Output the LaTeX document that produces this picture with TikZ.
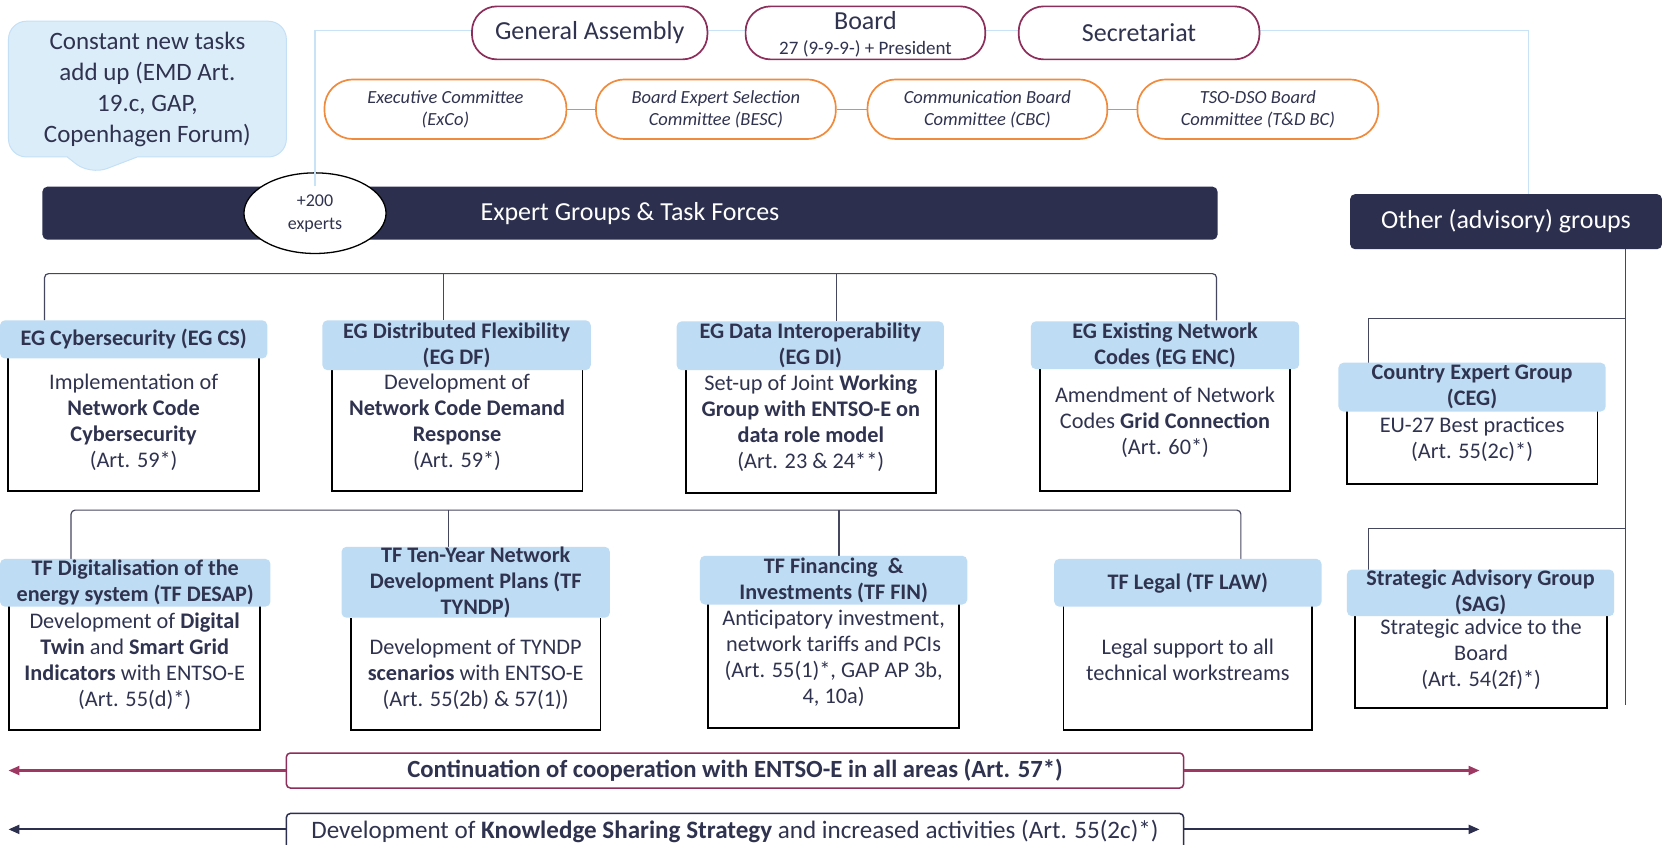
\documentclass[tikz,border=0pt]{standalone}
\usepackage{fontspec}
\setmainfont{Carlito}
\usetikzlibrary{shapes.callouts,shapes.geometric,arrows.meta}
\definecolor{navy}{HTML}{2C2F4E}
\definecolor{navytext}{HTML}{30334F}
\definecolor{maroon}{HTML}{8C2D5A}
\definecolor{orangeb}{HTML}{F08A3C}
\definecolor{pinkline}{HTML}{C98CA2}
\definecolor{hdrblue}{HTML}{BEDDF4}
\definecolor{lblue}{HTML}{C9E3F6}
\definecolor{callfill}{HTML}{DCEDFA}
\definecolor{callborder}{HTML}{C4E0F7}
\definecolor{brkcol}{HTML}{45475F}
\definecolor{arrowm}{HTML}{9E3862}
\newcommand{\pxu}{1.0606pt}
\tikzset{
  topoval/.style={draw=maroon, line width=1.7pt, fill=white, rounded corners=25pt, inner sep=0pt, text=navytext, font=\fontsize{26}{28}\selectfont},
  comoval/.style={draw=orangeb, line width=1.7pt, fill=white, rounded corners=28pt, inner sep=0pt, text=navytext, align=center, font=\itshape\fontsize{18.5}{22}\selectfont},
  link/.style={draw=pinkline, line width=1.3pt},
  bar/.style={fill=navy, rounded corners=5pt, inner sep=0pt, text=white, font=\fontsize{26}{28}\selectfont},
  brk/.style={draw=brkcol, line width=1.2pt},
  hdr/.style={fill=hdrblue, rounded corners=5pt, inner sep=0pt, align=center, text=navytext, font=\bfseries\fontsize{22.2}{26}\selectfont},
  body/.style={inner sep=0pt, align=center, text=navytext, font=\fontsize{22.3}{26}\selectfont},
  boxline/.style={draw=black, line width=1.8pt},
  band/.style={fill=white, rounded corners=4pt, inner sep=0pt, line width=1.5pt, text=navytext},
  flow/.style={line width=2.2pt, -{Triangle[length=11pt,width=9pt]}},
  lbline/.style={draw=lblue, line width=1.2pt}
}
\begin{document}
\begin{tikzpicture}[x=1.0606pt, y=-1.0606pt]
\useasboundingbox (0,0) rectangle (1568,796);
\fill[white] (0,0) rectangle (1568,796);

% nodes of the top
\node[bar, minimum width=1108*\pxu, minimum height=50*\pxu] (eg) at (594,201) {Expert Groups \& Task Forces};
\node[bar, minimum width=294*\pxu, minimum height=52*\pxu] (other) at (1420,209) {Other (advisory) groups};
\node[draw=black, fill=white, ellipse, line width=1.3pt, minimum width=134*\pxu, minimum height=76*\pxu, inner sep=0pt, align=center, text=navytext, font=\fontsize{18}{23}\selectfont] (exp) at (297,201) {+200\\experts};

% light blue frame line
\coordinate (lb1) at (296,29);
\coordinate (lb2) at (1441,29);
\draw[lbline] (exp.north |- eg.north) -- (exp.north |- lb1) -- (lb2) -- (lb2 |- other.north);

\node[topoval, minimum width=222*\pxu, minimum height=50*\pxu] (ga) at (556,31) {General Assembly};
\node[topoval, minimum width=226*\pxu, minimum height=50*\pxu, align=center, text depth=0pt] (board) at (816,31) {Board\\[-3pt]{\fontsize{19}{20}\selectfont 27 (9-9-9-) + President}};
\node[topoval, minimum width=227*\pxu, minimum height=50*\pxu] (sec) at (1074,31) {Secretariat};

\node[comoval, minimum width=228*\pxu, minimum height=56*\pxu] (exco) at (420,103) {Executive Committee\\(ExCo)};
\node[comoval, minimum width=226*\pxu, minimum height=56*\pxu] (besc) at (675,103) {Board Expert Selection\\Committee (BESC)};
\node[comoval, minimum width=226*\pxu, minimum height=56*\pxu] (cbc) at (931,103) {Communication Board\\Committee (CBC)};
\node[comoval, minimum width=227*\pxu, minimum height=56*\pxu] (tdbc) at (1186,103) {TSO-DSO Board\\Committee (T\&D BC)};
\draw[link] (exco.east) -- (besc.west);
\draw[link] (besc.east) -- (cbc.west);
\draw[link] (cbc.east) -- (tdbc.west);

% callout
\node[shape=rectangle callout, fill=callfill, draw=callborder, line width=1pt, rounded corners=18pt, minimum width=262*\pxu, minimum height=128*\pxu, inner sep=0pt, callout absolute pointer={(85,165)}, callout pointer width=70pt, align=center, text=navytext, font=\fontsize{25}{31}\selectfont] (tasks) at (139,84) {Constant new tasks\\add up (EMD Art.\\19.c, GAP,\\Copenhagen Forum)};

% bracket EG
\coordinate (egy) at (0,258);
\coordinate (egd1) at (42,302);
\coordinate (egd2) at (418,302);
\coordinate (egd3) at (789,303);
\coordinate (egd4) at (1147,302);
\draw[brk, rounded corners=4pt] (egd1) |- (egd4 |- egy) -- (egd4);
\draw[brk] (egd2) -- (egd2 |- egy);
\draw[brk] (egd3) -- (egd3 |- egy);

% bracket TF
\coordinate (tfy) at (0,481);
\coordinate (tfd1) at (67,527);
\coordinate (tfd2) at (423,517);
\coordinate (tfd3) at (791,524);
\coordinate (tfd4) at (1170,527);
\draw[brk, rounded corners=4pt] (tfd1) |- (tfd4 |- tfy) -- (tfd4);
\draw[brk] (tfd2) -- (tfd2 |- tfy);
\draw[brk] (tfd3) -- (tfd3 |- tfy);

% other groups trunk
\coordinate (ov) at (1533,665);
\coordinate (cegj) at (1533,300);
\coordinate (cegd) at (1290,342);
\coordinate (sagj) at (1533,498);
\coordinate (sagd) at (1290,537);
\draw[brk] (other.south -| ov) -- (ov);
\draw[brk] (cegj) -| (cegd);
\draw[brk] (sagj) -| (sagd);

% EG bodies
\node[body, minimum width=236*\pxu, minimum height=130*\pxu] (cs) at (126,398) {Implementation of\\\textbf{Network Code}\\\textbf{Cybersecurity}\\(Art. 59*)};
\node[body, minimum width=236*\pxu, minimum height=130*\pxu] (df) at (431,398) {Development of\\\textbf{Network Code Demand}\\\textbf{Response}\\(Art. 59*)};
\node[body, minimum width=235*\pxu, minimum height=131*\pxu] (di) at (764.5,399.5) {Set-up of Joint \textbf{Working}\\\textbf{Group with ENTSO-E on}\\\textbf{data role model}\\(Art. 23 \& 24**)};
\node[body, minimum width=235*\pxu, minimum height=129*\pxu] (enc) at (1098.5,398.5) {Amendment of Network\\Codes \textbf{Grid Connection}\\(Art. 60*)};
\node[body, minimum width=236*\pxu, minimum height=83*\pxu] (ceg) at (1388,414.5) {EU-27 Best practices\\(Art. 55(2c)*)};
% TF bodies
\node[body, minimum width=236*\pxu, minimum height=130*\pxu] (desap) at (127,623) {Development of \textbf{Digital}\\\textbf{Twin} and \textbf{Smart Grid}\\\textbf{Indicators} with ENTSO-E\\(Art. 55(d)*)};
\node[body, minimum width=235*\pxu, minimum height=105*\pxu] (tyndp) at (448.5,635.5) {Development of TYNDP\\\textbf{scenarios} with ENTSO-E\\(Art. 55(2b) \& 57(1))};
\node[body, minimum width=236*\pxu, minimum height=131*\pxu] (fin) at (786,620.5) {Anticipatory investment,\\network tariffs and PCIs\\(Art. 55(1)*, GAP AP 3b,\\4, 10a)};
\node[body, minimum width=234*\pxu, minimum height=131*\pxu] (law) at (1120,622.5) {Legal support to all\\technical workstreams};
\node[body, minimum width=237*\pxu, minimum height=100*\pxu] (sag) at (1396.5,617) {Strategic advice to the\\Board\\(Art. 54(2f)*)};

\foreach \b in {cs,df,di,enc,ceg,desap,tyndp,fin,law,sag}
  \draw[boxline] (\b.north west) |- (\b.south east) -- (\b.north east);

% headers
\node[hdr, minimum width=252*\pxu, minimum height=36*\pxu] (cs-h) at (126,320) {EG Cybersecurity (EG CS)};
\node[hdr, minimum width=253*\pxu, minimum height=47*\pxu] (df-h) at (430.5,325.5) {EG Distributed Flexibility\\(EG DF)};
\node[hdr, minimum width=252*\pxu, minimum height=46*\pxu] (di-h) at (764,326) {EG Data Interoperability\\(EG DI)};
\node[hdr, minimum width=253*\pxu, minimum height=45*\pxu] (enc-h) at (1098.5,325.5) {EG Existing Network\\Codes (EG ENC)};
\node[hdr, minimum width=252*\pxu, minimum height=46*\pxu] (ceg-h) at (1388,365) {Country Expert Group\\(CEG)};
\node[hdr, minimum width=255*\pxu, minimum height=45*\pxu] (desap-h) at (127.5,549.5) {TF Digitalisation of the\\energy system (TF DESAP)};
\node[hdr, minimum width=253*\pxu, minimum height=64*\pxu] (tyndp-h) at (448.5,549) {TF Ten-Year Network\\Development Plans (TF\\TYNDP)};
\node[hdr, minimum width=252*\pxu, minimum height=46*\pxu] (fin-h) at (786,547) {TF Financing \ \&\\Investments (TF FIN)};
\node[hdr, minimum width=252*\pxu, minimum height=45*\pxu] (law-h) at (1120,549.5) {TF Legal (TF LAW)};
\node[hdr, minimum width=252*\pxu, minimum height=44*\pxu] (sag-h) at (1396,559) {Strategic Advisory Group\\(SAG)};

% bottom bands
\node[band, draw=maroon, minimum width=846*\pxu, minimum height=33*\pxu, font=\bfseries\fontsize{24.7}{26}\selectfont] (coop) at (693,726.5) {Continuation of cooperation with ENTSO-E in all areas (Art. 57*)};
\coordinate (coopL) at (8,726.5);
\coordinate (coopR) at (1395,726.5);
\draw[flow, arrowm] (coop.west) -- (coopL);
\draw[flow, arrowm] (coop.east) -- (coopR);

\node[band, draw=navy, minimum width=846*\pxu, minimum height=34*\pxu, font=\fontsize{25.1}{26}\selectfont] (know) at (693,784) {Development of \textbf{Knowledge Sharing Strategy} and increased activities (Art. 55(2c)*)};
\coordinate (knowL) at (8,782);
\coordinate (knowR) at (1395,782);
\draw[flow, navy] (know.west |- knowL) -- (knowL);
\draw[flow, navy] (know.east |- knowR) -- (knowR);
\end{tikzpicture}
\end{document}
